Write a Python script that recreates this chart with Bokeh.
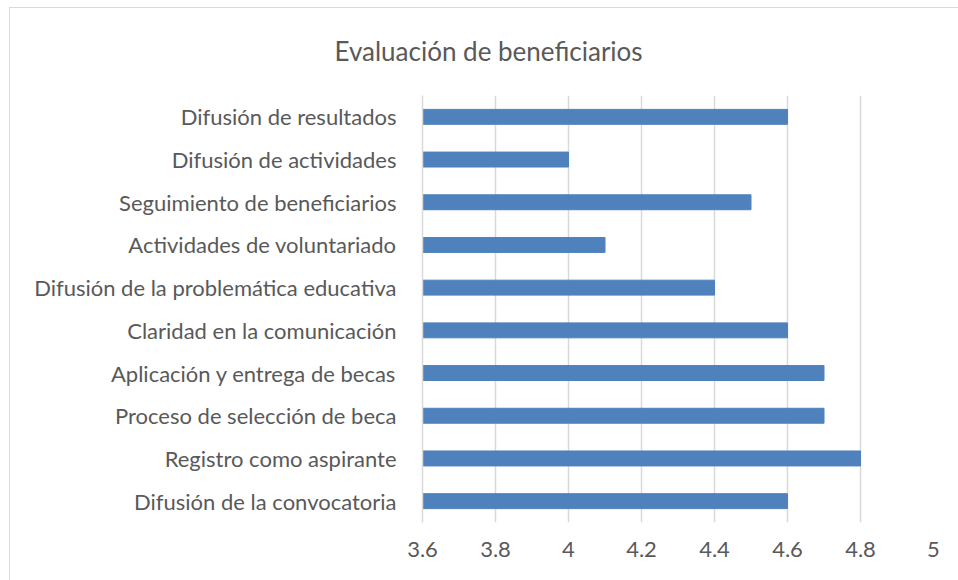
from bokeh.plotting import figure
from bokeh.models import FixedTicker
from bokeh.embed import file_html
from bokeh.resources import INLINE

categories = [
    "Difusión de la convocatoria",
    "Registro como aspirante",
    "Proceso de selección de beca",
    "Aplicación y entrega de becas",
    "Claridad en la comunicación",
    "Difusión de la problemática educativa",
    "Actividades de voluntariado",
    "Seguimiento de beneficiarios",
    "Difusión de actividades",
    "Difusión de resultados",
]
values = [4.6, 4.8, 4.7, 4.7, 4.6, 4.4, 4.1, 4.5, 4.0, 4.6]
x_ticks = [3.6, 3.8, 4.0, 4.2, 4.4, 4.6, 4.8, 5.0]
x_start = 3.6

FONT = "Lato"
TXT = "#595959"

p = figure(width=958, height=580, y_range=categories, x_range=(3.6, 5.0),
           output_backend="svg", toolbar_location=None,
           min_border_left=422, min_border_right=25, min_border_top=95, min_border_bottom=58)
p.hbar(y=categories, left=x_start, right=values, height=0.35,
       fill_color="#4f81bd", line_color="#4f81bd")

p.title.text = "Evaluación de beneficiarios"
p.title.align = "left"
p.title.offset = -88
p.title.standoff = 57
p.title.text_font = FONT
p.title.text_font_size = "26px"
p.title.text_font_style = "normal"
p.title.text_color = TXT

p.xaxis.ticker = FixedTicker(ticks=x_ticks)
p.xaxis.major_label_overrides = {3.6: "3.6", 3.8: "3.8", 4.0: "4", 4.2: "4.2", 4.4: "4.4",
                                 4.6: "4.6", 4.8: "4.8", 5.0: "5"}
p.xaxis.axis_line_color = None
p.xaxis.major_tick_line_color = None
p.xaxis.minor_tick_line_color = None
p.xaxis.major_label_standoff = 13
p.xaxis.major_label_text_font = FONT
p.xaxis.major_label_text_font_size = "22px"
p.xaxis.major_label_text_color = TXT

p.yaxis.axis_line_color = "#d9d9d9"
p.yaxis.axis_line_width = 1.5
p.yaxis.major_tick_line_color = None
p.yaxis.minor_tick_line_color = None
p.yaxis.major_label_standoff = 20
p.yaxis.major_label_text_font = FONT
p.yaxis.major_label_text_font_size = "22px"
p.yaxis.major_label_text_color = TXT

p.xgrid.grid_line_color = "#d9d9d9"
p.xgrid.grid_line_width = 1.5
p.ygrid.grid_line_color = None
p.outline_line_color = None
p.border_fill_color = None

p.styles = {
    "background": "linear-gradient(#d9d9d9, #d9d9d9) no-repeat 9px 7px / 100% 1px, "
                  "linear-gradient(#d9d9d9, #d9d9d9) no-repeat 9px 7px / 1px 100%, white",
}

open("out.html", "w").write(file_html(p, INLINE))
